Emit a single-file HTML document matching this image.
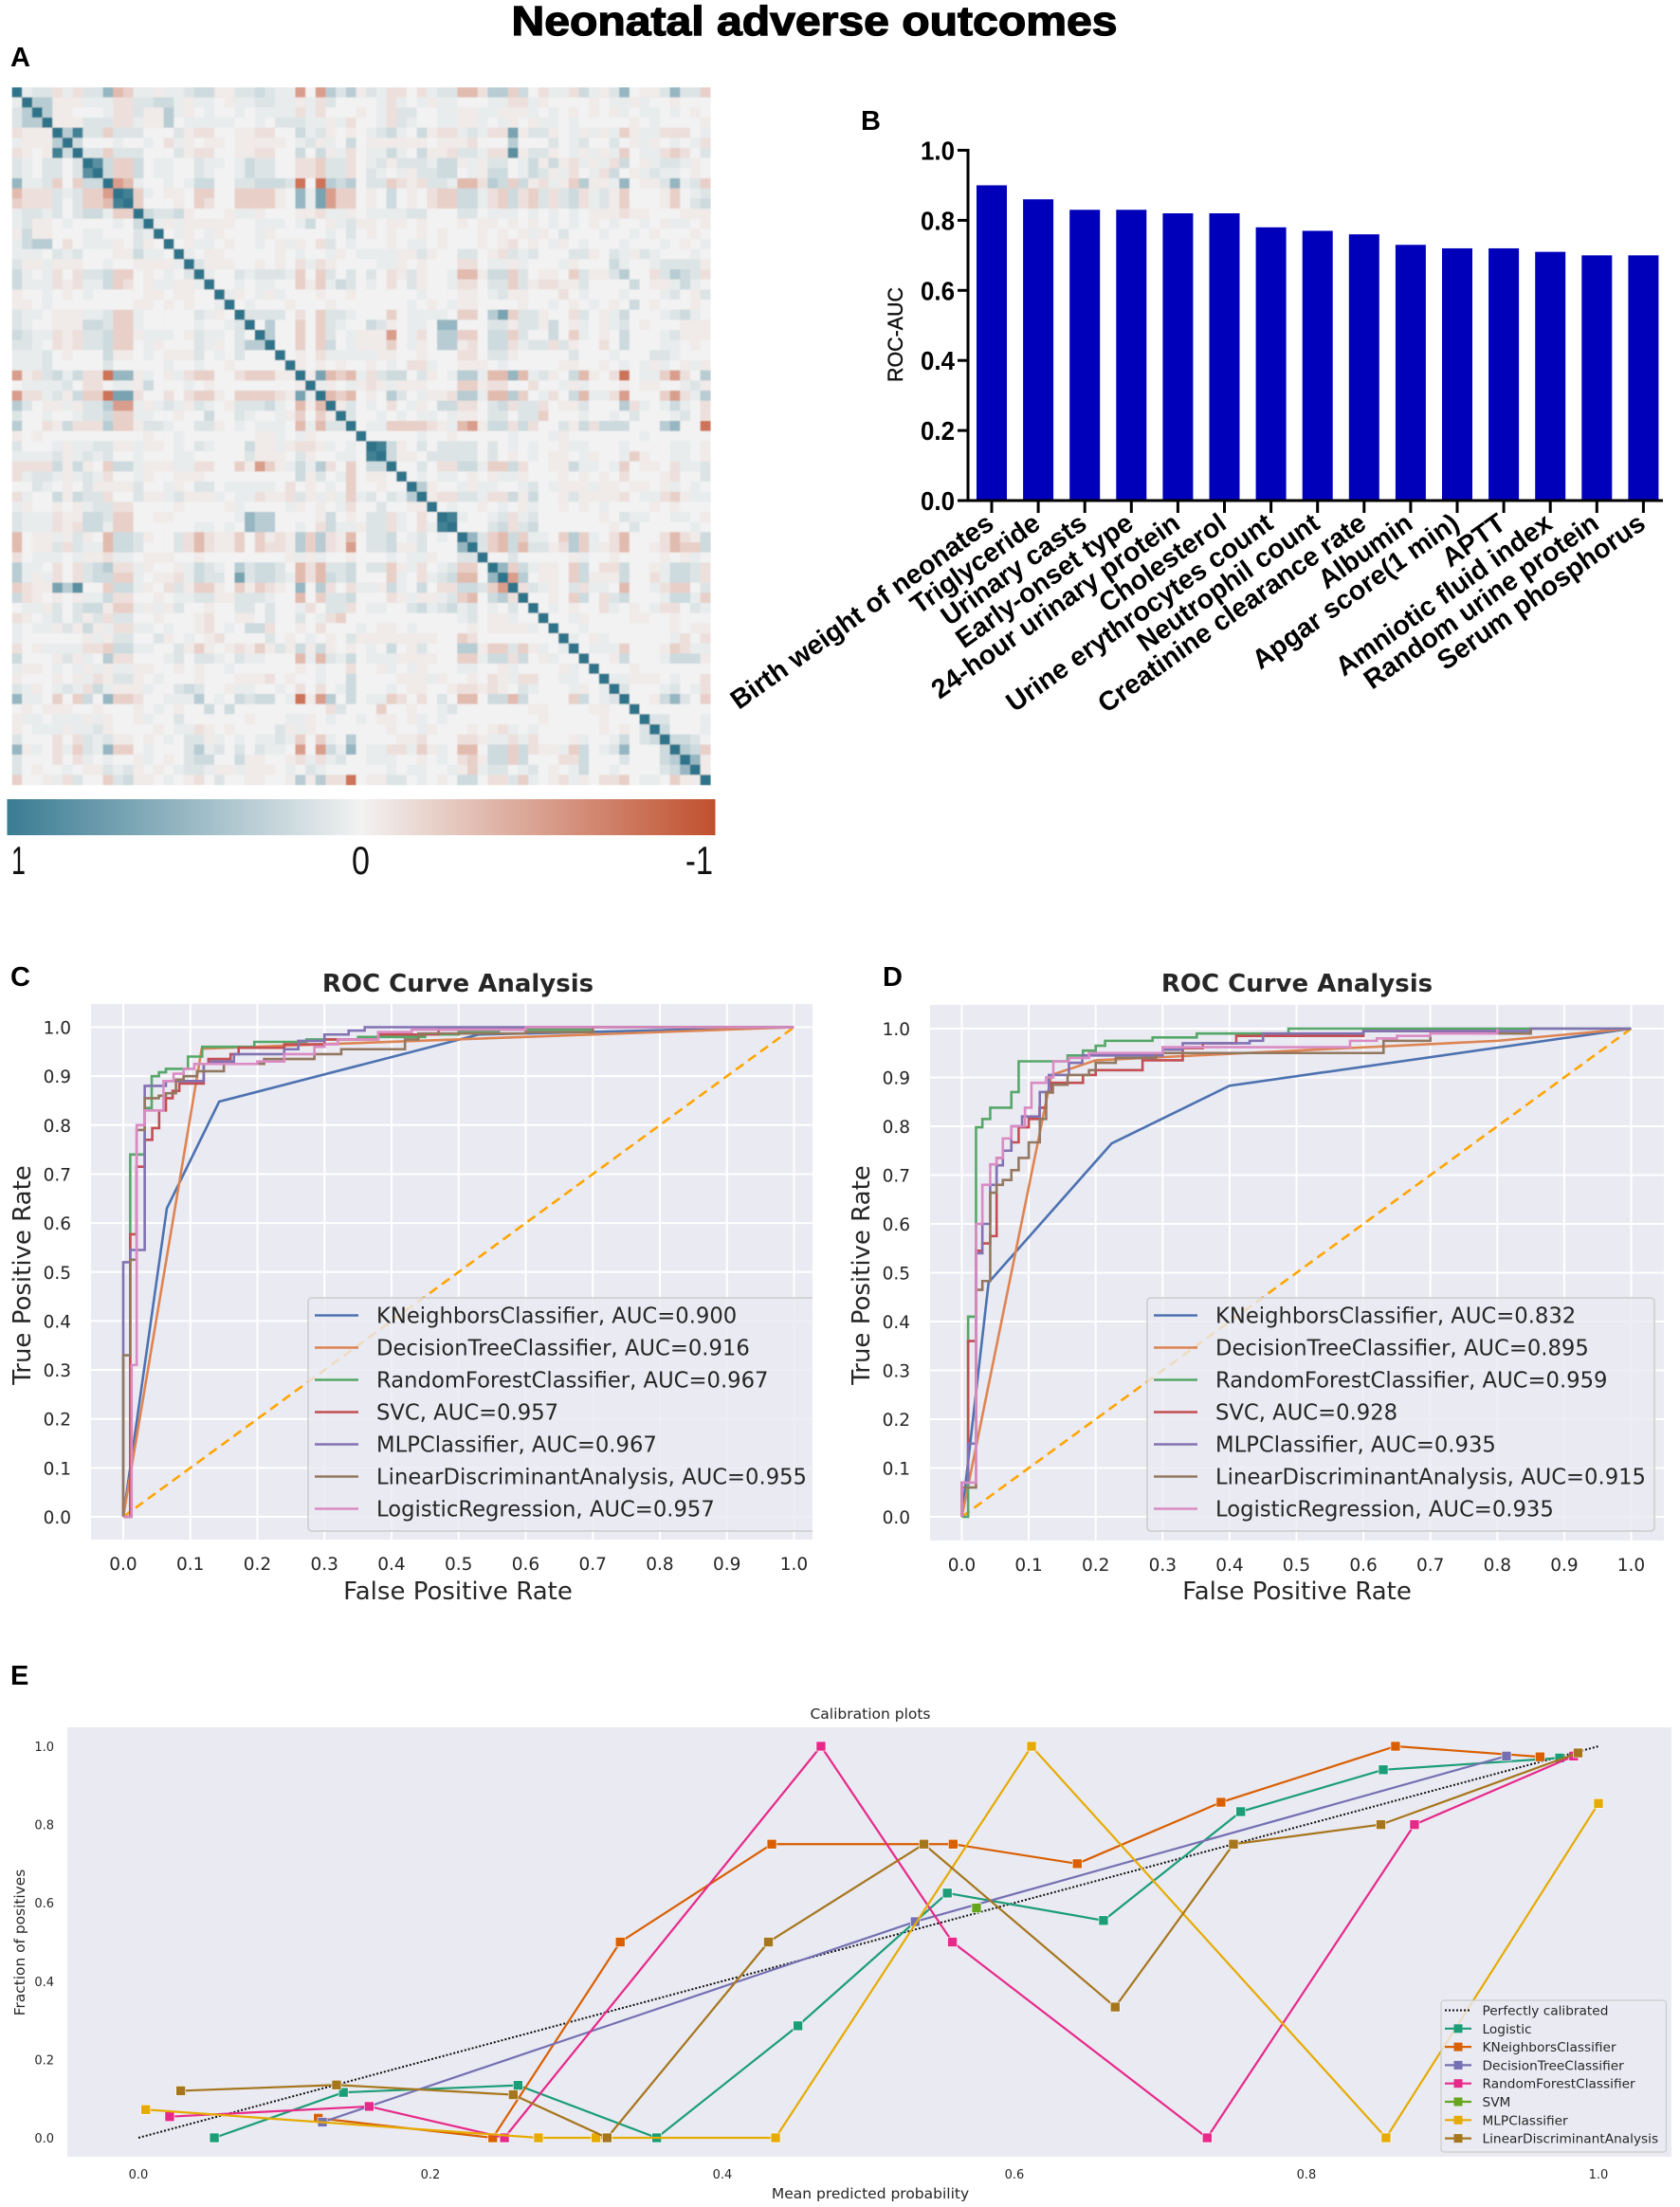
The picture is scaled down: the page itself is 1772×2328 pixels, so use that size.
<!DOCTYPE html>
<html lang="en">
<head>
<meta charset="utf-8">
<title>Neonatal adverse outcomes</title>
<style>
html,body{margin:0;padding:0;background:#fff;}
svg{display:block;}
text{font-family:"Liberation Sans",sans-serif;}
.dj{font-family:"DejaVu Sans","Liberation Sans",sans-serif;fill:#262626;}
</style>
</head>
<body>
<svg id="figure" xmlns="http://www.w3.org/2000/svg" width="1772" height="2328" viewBox="0 0 1772 2328">
<defs>
<linearGradient id="cbar" x1="0" x2="1" y1="0" y2="0">
<stop offset="0" stop-color="#3a7c93"/><stop offset="0.5" stop-color="#f2f2f2"/><stop offset="1" stop-color="#c0502e"/>
</linearGradient>
<clipPath id="clipC"><rect x="96" y="1059" width="761" height="565"/></clipPath>
<clipPath id="clipD"><rect x="981" y="1060" width="774" height="565"/></clipPath>
<filter id="soft" x="0" y="0" width="100%" height="100%"><feGaussianBlur stdDeviation="0.6"/></filter>
</defs>
<text x="859" y="37" text-anchor="middle" font-size="44" font-weight="700" fill="#000" stroke="#000" stroke-width="1.3" textLength="639" lengthAdjust="spacingAndGlyphs">Neonatal adverse outcomes</text>
<text x="11" y="70" font-size="29" font-weight="700" fill="#000">A</text>
<text x="908" y="137" font-size="29" font-weight="700" fill="#000">B</text>
<text x="11" y="1040" font-size="29" font-weight="700" fill="#000">C</text>
<text x="931" y="1040" font-size="29" font-weight="700" fill="#000">D</text>
<text x="11" y="1777" font-size="29" font-weight="700" fill="#000">E</text>
<g id="panelA" filter="url(#soft)"></g>
<rect x="7.5" y="843" width="747" height="38" fill="url(#cbar)"/>
<text x="12" y="922" font-size="42" fill="#111" textLength="15" lengthAdjust="spacingAndGlyphs">1</text>
<text x="371" y="922" font-size="42" fill="#111" textLength="19" lengthAdjust="spacingAndGlyphs">0</text>
<text x="723" y="922" font-size="42" fill="#111" textLength="29" lengthAdjust="spacingAndGlyphs">-1</text>
<g id="panelB"></g>
<g id="panelC"></g>
<g id="panelD"></g>
<g id="panelE"></g>
</svg>
<script>
// ---------- Panel A data: upper triangle of the correlation matrix, row i starts at column i ----------
const heatmapUpper = [
"9122b1b225dc11a11233aa223211e.e424a21bb.b122ddb44c3.b11b31a25.aa2522c",
"944aaa111bb22331a11.a112211a1b2....1b1.1a11...11bb1a....a.11a1..a...",
"94aa...1bb2aa41a.1..1.1111b1b...a.1b22..11aa11aaa1.1.a.a.a1.11.1.a.",
"9aaa222bb1aa4.11111..1.22211a1b..1b21..11aa1.1a.a11.1.....a.1....a",
"94822c222...2abb..aabb..312a.a.1231.3abb121bb6a22a.1a1a1ca11bbb.1",
"93...1..1.b1a.aa.aaaaa.12a1.3.aaaaaa.aaab...4...2.12..2.a1a.1.1b",
"922c222...2abb..aabb..3.3a1b.1131.3aab221bb7a22a.1a1a1c.11bcb.2",
"973cc3.11..211.1322..bbc22b.12a222133a1a22.13a3ab1a1b3.a1221a.",
"93cc3.11..21..1322..bbc22b.21.1a2233.1a33.132a1b.1b3.a1211.a.",
"9ed1..1.133..223332f.f434.22cbab221ddb43c3ab1ac4aa15.aa2512c",
"98c1.aa.cc..cccca.516ecc.a.3.a.bcc331bc3bc2b23b12ac...ac.12",
"9c...a.cb..cccca.516ecc.a.3.a.bcc331bc3bc2b23b12ac...ac.23",
"93223a...a11a...aab11a.111122...22.111.1.1.1.aaabaa...aaa",
"91a1aaaaa..111.13.a12aa.aa.a...a.aa.a.a.1.1.a.1..1.a11.a",
"9.1a.1a...1a.....1.2.a.a..a.a...a.a.a1a.2...1..1.a...a.",
"9.a11.a..1.a1a.b2.1...a.11.a...a.ab.a.1a.1...1...1.a.1",
"91.aa.....a.1..1a.1111aa2a..22.ab212...22a.21a21...1.",
"92aaa..a.a.b1ba....11a.a...bb.11a1...1a...31..12222a",
"91..212221c.c2.2.2.ba2a..1dda33c2.aa.c2aa24..b2432b",
"9..1.11..cac132.1.b.2a..1bb.22c2abbaa2....3.aa131.",
"91a.1a1...a..a......1...aa.12aa...b.1...1...12.a2",
"9.1...a...a.......1.a.1aa....a..1.a.1.a.3.a...a.",
"92222.b.c221...c.1111.cc.46c22a..b2.a13...1231.",
"9.4..c.c21..32a.11.55...22a22a3.a1.a12.a...aaa",
"94..c.c2.1aaae.1b.44cc.33c2..3.c1.a.3...12aaa",
"9..c.c3.1aaac.1a.44ab.33b122b2a..b.3...11.a.",
"9.a.b11111aa..a...bb.22a.....2...1...221...",
"9a.a.a..a.1.bb1..aaa.1.....aa..a.1.1a1.a1a",
"9a6dcd1b233.2a.1441dd5d12a.3da.bf.11ceb.4",
"91a.1aba1aaa...ccabb..b..1a1...a.aa..12a",
"9dcd.a.42.1aab441dd4c.1b.3d11be...ceb14",
"9a2.1.b.1a.33bb.23b22b.aa2...4b1.131.b",
"92..1.1.11.1aa.22.22c...1..1.2...12.b",
"9.11ccccba1dea33b3b..2a3b333...45..f",
"9.....1..a.....1...1a.......1......",
"983a.2.2222.2.1.1..a11...1....11.a",
"93aa.22222.2.a.1.aa.1a..1ca..11.a",
"9..2.bb331cc3b..aa311.1c.aa.b112",
"9.1.11.a.a11a...a.a.a.b...ab..2",
"94a..1a11..12.1aaa1aa.aa.a1.1.",
"9abb221bb3a3..a2aaaab.11bca11",
"9.1..a.1.a1..a.a.1....a.a...",
"981..12b12......a.211..11.a",
"9...23b23.......a.2.....1.",
"952cd3c11.c4c1.bd...bdba3",
"92cd3d22ab4c1abd..abdcc3",
"9..2.....a1..a....a.a1",
"95c31aa.c3.bb3..a1332b",
"9e4.aa.c3aaa3..b1332b",
"9b21a.2b11.d..1bcc.2",
"9..a.c3.b23...1331c",
"9.1.a..b1.a.1bb.21",
"9..1a....aa..a...",
"9..1........a.aa",
"91.a1......1b.b",
"9.111c...acb11",
"9..a3...1333a",
"9...a.......",
"911aaa.1..b",
"92...12.1b",
"9..a352.c",
"9.......",
"922...1",
"93...1",
"9332.",
"943c",
"95a",
"9a",
"9"
];
const heatmapLevels = {".":0,"1":.05,"2":.11,"3":.19,"4":.3,"5":.47,"6":.62,"7":.78,"8":.9,"9":1,"a":-.05,"b":-.11,"c":-.21,"d":-.34,"e":-.52,"f":-.78};

// ---------- Panel B data ----------
const aucCategories = ["Birth weight of neonates","Triglyceride","Urinary casts","Early-onset type","24-hour urinary protein","Cholesterol","Urine erythrocytes count","Neutrophil count","Creatinine clearance rate","Albumin","Apgar score(1 min)","APTT","Amniotic fluid index","Random urine protein","Serum phosphorus"];
const aucValues = [0.90,0.86,0.83,0.83,0.82,0.82,0.78,0.77,0.76,0.73,0.72,0.72,0.71,0.70,0.70];
const aucTicks = [0,0.2,0.4,0.6,0.8,1.0];

// ---------- ROC shared ----------
const rocTicks = [0,0.1,0.2,0.3,0.4,0.5,0.6,0.7,0.8,0.9,1.0];
const rocNames = ["KNeighborsClassifier","DecisionTreeClassifier","RandomForestClassifier","SVC","MLPClassifier","LinearDiscriminantAnalysis","LogisticRegression"];
const rocColors = ["#4c72b0","#dd8452","#55a868","#c44e52","#8172b3","#937860","#da8bc3"];

// ---------- Panel C data ----------
const aucC = ["0.900","0.916","0.967","0.957","0.967","0.955","0.957"];
const knnCx = [0,.065,.143,.53,1];
const knnCy = [0,.63,.848,.985,1];
const dtCx = [0,.117,1];
const dtCy = [0,.956,1];
const rfCx = [0,.0104,.032,.0424,.0532,.0636,.0965,.1177,.1954,.2731,.35,.45,.5,.56,.7,1];
const rfCy = [0,.74,.835,.9,.908,.915,.94,.96,.97,.975,.98,.985,.99,.995,1,1];
const svcCx = [0,.0104,.0198,.032,.0432,.0535,.0636,.0736,.0836,.12,.127,.16,.172,.24,.3,.38,.47,.6,1];
const svcCy = [0,.577,.715,.77,.794,.83,.855,.87,.885,.925,.935,.945,.958,.965,.975,.985,.995,1,1];
const mlpCx = [0,0,.0104,.032,.032,.0636,.12,.13,.165,.24,.261,.3,.336,.36,1];
const mlpCy = [0,.52,.545,.735,.88,.89,.925,.93,.945,.955,.972,.985,.993,1,1];
const ldaCx = [0,0,.0104,.02,.032,.053,.0636,.0786,.09,.11,.15,.21,.285,.325,.42,.44,.6,.7,1];
const ldaCy = [0,.33,.525,.79,.855,.86,.865,.893,.9,.91,.925,.935,.945,.955,.975,.987,.99,1,1];
const lrCx = [0,.0125,.02,.032,.06,.075,.09,.106,.2,.24,.285,.3,.32,.38,.43,.6,1];
const lrCy = [0,.31,.8,.83,.89,.905,.915,.925,.93,.945,.96,.965,.975,.99,.995,1,1];

// ---------- Panel D data ----------
const aucD = ["0.832","0.895","0.959","0.928","0.935","0.915","0.935"];
const knnDx = [0,.04,.224,.4,1];
const knnDy = [0,.48,.765,.883,1];
const dtDx = [0,.134,.2,.5,.8,1];
const dtDy = [0,.905,.935,.955,.975,1];
const rfDx = [0,.0094,.0212,.0307,.0424,.074,.0849,.158,.181,.2,.214,.285,.351,.488,1];
const rfDy = [0,.41,.798,.815,.838,.87,.933,.945,.955,.965,.975,.982,.99,1,1];
const svcDx = [0,0,.0094,.0212,.0307,.0424,.052,.0613,.074,.0849,.1,.116,.126,.134,.158,.181,.2,.27,.33,.36,.41,.6,.8];
const svcDy = [0,.07,.36,.545,.56,.575,.735,.75,.767,.798,.815,.838,.87,.889,.889,.905,.915,.935,.96,.97,.985,.995,1];
const mlpDx = [0,0,.0094,.0212,.0307,.0424,.052,.0613,.074,.09,.1165,.13,.16,.18,.3,.33,.43,.45,.6,.85,1];
const mlpDy = [0,.07,.15,.54,.6,.68,.72,.75,.8,.82,.87,.905,.93,.945,.957,.97,.975,.99,.995,1,1];
const ldaDx = [0,0,.0212,.0307,.0424,.052,.0613,.074,.0849,.1,.1165,.126,.136,.158,.19,.2,.23,.29,.63,.7,.85];
const ldaDy = [0,.06,.465,.483,.664,.68,.69,.71,.735,.767,.815,.869,.885,.905,.915,.93,.94,.95,.975,.99,1];
const lrDx = [0,0,.0212,.0307,.0424,.052,.0613,.074,.0943,.104,.126,.1367,.16,.19,.3,.58,.62,.65,.7,.8];
const lrDy = [0,.07,.6,.68,.722,.735,.775,.8,.838,.889,.9,.933,.94,.95,.962,.975,.98,.985,.99,1];

// ---------- Panel E data ----------
const calTicks = [0,0.2,0.4,0.6,0.8,1.0];
const calNames = ["Logistic","KNeighborsClassifier","DecisionTreeClassifier","RandomForestClassifier","SVM","MLPClassifier","LinearDiscriminantAnalysis"];
const calColors = ["#1b9e77","#d95f02","#7570b3","#e7298a","#66a61e","#e6ab02","#a6761d"];
const logisticX = [.052,.1404,.26,.355,.4517,.554,.661,.755,.8526,.9734];
const logisticY = [0,.116,.134,0,.286,.625,.555,.833,.94,.97];
const kneighborsX = [.1232,.2427,.33,.4338,.558,.643,.7415,.861,.96];
const kneighborsY = [.05,0,.5,.75,.75,.7,.857,1,.973];
const treeX = [.126,.532,.937];
const treeY = [.04,.552,.975];
const forestX = [.0214,.158,.2507,.4675,.5575,.732,.874,.983];
const forestY = [.054,.08,0,1,.5,0,.8,.975];
const svmX = [.574];
const svmY = [.587];
const mlpX = [.005,.274,.3134,.4364,.6117,.8545,1.0];
const mlpY = [.072,0,0,0,1,0,.854];
const ldaX = [.029,.1357,.2567,.321,.4315,.538,.669,.75,.851,.986];
const ldaY = [.12,.135,.11,0,.5,.75,.334,.75,.8,.983];

// ---------- helpers ----------
const NS = "http://www.w3.org/2000/svg";
function mk(tag, attrs, parent, txt){
  const el = document.createElementNS(NS, tag);
  for (const k in attrs) el.setAttribute(k, attrs[k]);
  if (txt !== undefined) el.textContent = txt;
  parent.appendChild(el);
  return el;
}
function linear(d0, d1, r0, r1){ return v => r0 + (v - d0) / (d1 - d0) * (r1 - r0); }
function mix(a, b, t){ return a.map((c, i) => Math.round(c + (b[i] - c) * t)); }
function rgb(c){ return "rgb(" + c.join(",") + ")"; }

// ---------- Panel A ----------
(function(){
  const g = document.getElementById("panelA");
  const n = heatmapUpper.length;
  const cellX = linear(0, n, 12.5, 749.3);
  const cellY = linear(0, n, 92, 828);
  const neutral = [242,242,242], teal = [47,115,137], red = [194,79,46];
  const m = [];
  for (let i = 0; i < n; i++) m.push(new Array(n).fill(0));
  heatmapUpper.forEach((row, i) => {
    for (let k = 0; k < row.length && i + k < n; k++){
      const v = heatmapLevels[row[k]] || 0;
      m[i][i + k] = v;
      m[i + k][i] = v;
    }
  });
  for (let r = 0; r < n; r++){
    for (let c = 0; c < n; c++){
      const v = m[r][c];
      const col = v >= 0 ? mix(neutral, teal, v) : mix(neutral, red, -v);
      const cell = mk("rect", {x: cellX(c), y: cellY(r), width: cellX(1) - cellX(0) + .3, height: cellY(1) - cellY(0) + .3, fill: rgb(col)}, g);
      
      
    }
  }
})();

// ---------- Panel B ----------
(function(){
  const g = document.getElementById("panelB");
  const y = linear(0, 1, 528, 158.5);
  const x = linear(0, 1, 1046, 1095.1);
  const barW = 32;
  aucValues.forEach((v, i) => {
    const bar = mk("rect", {x: x(i) - barW / 2, y: y(v), width: barW, height: y(0) - y(v), fill: "#0000bb"}, g);
    
    
    const tick = mk("line", {x1: x(i), x2: x(i), y1: y(0), y2: y(0) + 13, stroke: "#000", "stroke-width": 3}, g);
    
    
    const px = x(i) + 4, py = y(0) + 28;
    const lab = mk("text", {x: px, y: py, "text-anchor": "end", "font-size": 28.5, "font-weight": 700, fill: "#000", transform: "rotate(-35.5 " + px + " " + py + ")"}, g, aucCategories[i]);
    
    
  });
  aucTicks.forEach(t => {
    const tick = mk("line", {x1: 1010, x2: 1021, y1: y(t), y2: y(t), stroke: "#000", "stroke-width": 3}, g);
    
    
    const lab = mk("text", {x: 1007, y: y(t) + 10, "text-anchor": "end", "font-size": 28, "font-weight": 700, fill: "#000", textLength: 36, lengthAdjust: "spacingAndGlyphs"}, g, t.toFixed(1));
    
    
  });
  const yAxis = mk("line", {x1: 1021, x2: 1021, y1: y(1) - 1.5, y2: y(0) + 1.5, stroke: "#000", "stroke-width": 3}, g);
  
  
  const xAxis = mk("line", {x1: 1010, x2: 1754, y1: y(0), y2: y(0), stroke: "#000", "stroke-width": 3}, g);
  
  
  const title = mk("text", {x: 0, y: 0, "text-anchor": "middle", "font-size": 22, fill: "#111", stroke: "#111", "stroke-width": .4, textLength: 100, lengthAdjust: "spacingAndGlyphs", transform: "translate(952 353) rotate(-90)"}, g, "ROC-AUC");
  
  
})();

// ---------- Panels C / D ----------
function drawRoc(gId, box, xs, ys, aucs, clipId){
  const g = document.getElementById(gId);
  const x = linear(0, 1, box.x0, box.x1);
  const y = linear(0, 1, box.y0, box.y1);
  const bg = mk("rect", {x: box.left, y: box.top, width: box.right - box.left, height: box.bottom - box.top, fill: "#eaeaf2"}, g);
  
  
  rocTicks.forEach(t => {
    const gx = mk("line", {x1: x(t), x2: x(t), y1: box.top, y2: box.bottom, stroke: "#fff", "stroke-width": 2}, g);
    
    
    const gy = mk("line", {x1: box.left, x2: box.right, y1: y(t), y2: y(t), stroke: "#fff", "stroke-width": 2}, g);
    
    
    const lx = mk("text", {x: x(t), y: box.bottom + 32, "text-anchor": "middle", "font-size": 18.5, class: "dj"}, g, t.toFixed(1));
    
    
    const ly = mk("text", {x: box.left - 21, y: y(t) + 7, "text-anchor": "end", "font-size": 18.5, class: "dj"}, g, t.toFixed(1));
    
    
  });
  const plot = mk("g", {"clip-path": "url(#" + clipId + ")"}, g);
  
  
  const diag = mk("line", {x1: x(0), y1: y(0), x2: x(1), y2: y(1), stroke: "#ffa500", "stroke-width": 2.6, "stroke-dasharray": "10 6"}, plot);
  
  
  rocNames.forEach((name, s) => {
    let pts = x(xs[s][0]) + "," + y(ys[s][0]);
    const stepped = s >= 2;
    for (let i = 1; i < xs[s].length; i++){
      if (stepped) pts += " " + x(xs[s][i]) + "," + y(ys[s][i - 1]);
      pts += " " + x(xs[s][i]) + "," + y(ys[s][i]);
    }
    const line = mk("polyline", {points: pts, fill: "none", stroke: rocColors[s], "stroke-width": 2.6, "stroke-linejoin": "miter"}, plot);
    
    
  });
  const leg = mk("rect", {x: box.legX, y: 1369, width: box.legW, height: 246, rx: 4, fill: "#eaeaf2", "fill-opacity": .8, stroke: "#cccccc", "stroke-width": 1.5}, plot);
  
  
  rocNames.forEach((name, s) => {
    const ry = 1387.5 + s * 34;
    const h = mk("line", {x1: box.legX + 7, x2: box.legX + 53, y1: ry, y2: ry, stroke: rocColors[s], "stroke-width": 2.6}, plot);
    
    
    const t = mk("text", {x: box.legX + 72, y: ry + 8, "font-size": 22.7, class: "dj"}, plot, name + ", AUC=" + aucs[s]);
    
    
  });
  const title = mk("text", {x: box.cx, y: 1046, "text-anchor": "middle", "font-size": 26, "font-weight": 700, class: "dj"}, g, "ROC Curve Analysis");
  
  
  const xl = mk("text", {x: box.cx, y: 1687, "text-anchor": "middle", "font-size": 26, class: "dj"}, g, "False Positive Rate");
  
  
  const yl = mk("text", {x: 0, y: 0, "text-anchor": "middle", "font-size": 26, class: "dj", transform: "translate(" + box.ylx + " 1345) rotate(-90)"}, g, "True Positive Rate");
  
  
}
drawRoc("panelC",
  {x0:130,x1:837.5,y0:1600,y1:1083.5,left:96,right:857,top:1059,bottom:1624,legX:325,legW:560,cx:483,ylx:32},
  [knnCx,dtCx,rfCx,svcCx,mlpCx,ldaCx,lrCx],[knnCy,dtCy,rfCy,svcCy,mlpCy,ldaCy,lrCy],aucC,"clipC");
drawRoc("panelD",
  {x0:1014.5,x1:1720.5,y0:1600,y1:1085,left:981,right:1755,top:1060,bottom:1625,legX:1210,legW:535,cx:1368,ylx:917},
  [knnDx,dtDx,rfDx,svcDx,mlpDx,ldaDx,lrDx],[knnDy,dtDy,rfDy,svcDy,mlpDy,ldaDy,lrDy],aucD,"clipD");

// ---------- Panel E ----------
(function(){
  const g = document.getElementById("panelE");
  const x = linear(0, 1, 146, 1686);
  const y = linear(0, 1, 2255, 1842);
  const bg = mk("rect", {x: 71, y: 1822, width: 1692, height: 453, fill: "#eaeaf2"}, g);
  
  
  calTicks.forEach(t => {
    const lx = mk("text", {x: x(t), y: 2298, "text-anchor": "middle", "font-size": 13, class: "dj"}, g, t.toFixed(1));
    
    
    const ly = mk("text", {x: 57, y: y(t) + 5, "text-anchor": "end", "font-size": 13, class: "dj"}, g, t.toFixed(1));
    
    
  });
  const perfect = mk("line", {x1: x(0), y1: y(0), x2: x(1), y2: y(1), stroke: "#111", "stroke-width": 2, "stroke-dasharray": "2 2"}, g);
  
  
  const xs = [logisticX, kneighborsX, treeX, forestX, svmX, mlpX, ldaX];
  const ys = [logisticY, kneighborsY, treeY, forestY, svmY, mlpY, ldaY];
  calNames.forEach((name, s) => {
    const pts = xs[s].map((v, i) => x(v) + "," + y(ys[s][i])).join(" ");
    const line = mk("polyline", {points: pts, fill: "none", stroke: calColors[s], "stroke-width": 2.2}, g);
    
    
    xs[s].forEach((v, i) => {
      const pt = mk("rect", {x: x(v) - 5, y: y(ys[s][i]) - 5, width: 10, height: 10, fill: calColors[s], stroke: "#fff", "stroke-width": .6}, g);
      
      
    });
  });
  const leg = mk("rect", {x: 1520, y: 2110, width: 237.5, height: 160, rx: 3, fill: "#eaeaf2", "fill-opacity": .8, stroke: "#cccccc", "stroke-width": 1.2}, g);
  
  
  const rowY = linear(0, 7, 2120.5, 2255.6);
  const h0 = mk("line", {x1: 1524, x2: 1552, y1: rowY(0), y2: rowY(0), stroke: "#111", "stroke-width": 2, "stroke-dasharray": "2 2"}, g);
  
  
  const t0 = mk("text", {x: 1563.5, y: rowY(0) + 5, "font-size": 13.7, class: "dj"}, g, "Perfectly calibrated");
  
  
  calNames.forEach((name, s) => {
    const ry = rowY(s + 1);
    const h = mk("line", {x1: 1524, x2: 1552, y1: ry, y2: ry, stroke: calColors[s], "stroke-width": 2.2}, g);
    
    
    const sq = mk("rect", {x: 1533.5, y: ry - 4.5, width: 9, height: 9, fill: calColors[s]}, g);
    
    
    const t = mk("text", {x: 1563.5, y: ry + 5, "font-size": 13.7, class: "dj"}, g, name);
    
    
  });
  const title = mk("text", {x: 918, y: 1813, "text-anchor": "middle", "font-size": 15.5, class: "dj"}, g, "Calibration plots");
  
  
  const xl = mk("text", {x: 918, y: 2319, "text-anchor": "middle", "font-size": 15.5, class: "dj"}, g, "Mean predicted probability");
  
  
  const yl = mk("text", {x: 0, y: 0, "text-anchor": "middle", "font-size": 15.4, class: "dj", transform: "translate(26 2049) rotate(-90)"}, g, "Fraction of positives");
  
  
})();
</script>
</body>
</html>
